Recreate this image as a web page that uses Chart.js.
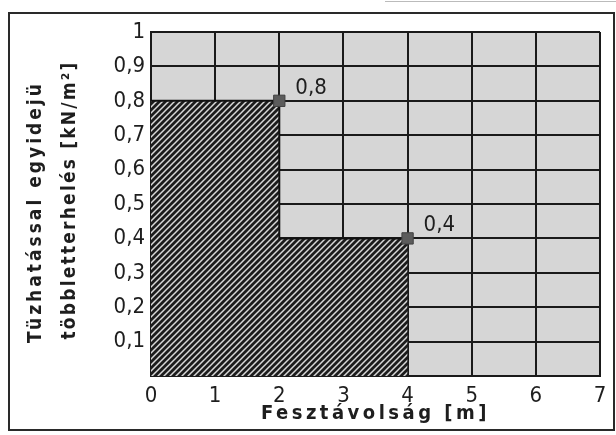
<!DOCTYPE html>
<html>
<head>
<meta charset="utf-8">
<script src="https://cdn.jsdelivr.net/npm/chart.js@4"></script>
<style>
  body { margin: 0; background: #fff; }
  canvas { display: block; }
</style>
</head>
<body>
<canvas id="c" width="616" height="435"></canvas>
<script>
// span end points [m] and the load on each span [kN/m2]
const spanEnds = [2, 4];
const loads = [0.8, 0.4];
const pointLabels = ['0,8', '0,4'];
const xTickLabels = ['0', '1', '2', '3', '4', '5', '6', '7'];
const yTickLabels = ['', '0,1', '0,2', '0,3', '0,4', '0,5', '0,6', '0,7', '0,8', '0,9', '1'];
const yTitle = ['Tüzhatással egyidejü', 'többletterhelés [kN/m²]'];
const xTitle = 'Fesztávolság [m]';

const FONT = '"DejaVu Sans Condensed", "Liberation Sans Narrow", sans-serif';

// step outline of the hatched area
const stepData = [];
let prev = 0;
loads.forEach((v, i) => {
    stepData.push({x: prev, y: v});
    stepData.push({x: spanEnds[i], y: v});
    prev = spanEnds[i];
});
const markerData = spanEnds.map((x, i) => ({x: x, y: loads[i]}));

// diagonal hatch ////
function hatch() {
    const p = document.createElement('canvas');
    p.width = 6; p.height = 6;
    const g = p.getContext('2d');
    g.fillStyle = '#1c1c1c';
    g.fillRect(0, 0, 6, 6);
    g.strokeStyle = '#d8d8d8';
    g.lineWidth = 1.5;
    g.beginPath();
    g.moveTo(0, 6); g.lineTo(6, 0);
    g.moveTo(-1, 1); g.lineTo(1, -1);
    g.moveTo(5, 7); g.lineTo(7, 5);
    g.stroke();
    return g.createPattern(p, 'repeat');
}

const frame = {
    id: 'frame',
    beforeDraw(chart) {
        const {ctx, chartArea: a} = chart;
        ctx.save();
        ctx.fillStyle = '#fff';
        ctx.fillRect(0, 0, chart.width, chart.height);
        ctx.strokeStyle = '#bbb';
        ctx.lineWidth = 1;
        ctx.beginPath();
        ctx.moveTo(385, 1.5); ctx.lineTo(616, 1.5);
        ctx.stroke();
        ctx.strokeStyle = '#2a2a2a';
        ctx.lineWidth = 2;
        ctx.strokeRect(9, 13, 605, 417);
        ctx.fillStyle = '#d6d6d6';
        ctx.fillRect(a.left, a.top, a.right - a.left, a.bottom - a.top);
        ctx.restore();
    }
};

const texts = {
    id: 'texts',
    afterDraw(chart) {
        const {ctx, chartArea: a} = chart;
        ctx.save();
        ctx.fillStyle = '#1e1e1e';
        ctx.font = '22px ' + FONT;
        ctx.textAlign = 'left';
        ctx.textBaseline = 'middle';
        const meta = chart.getDatasetMeta(0);
        meta.data.forEach((pt, i) => {
            ctx.fillText(pointLabels[i], pt.x + 16, pt.y - 13);
        });
        ctx.font = 'bold 20px ' + FONT;
        ctx.letterSpacing = '3.5px';
        ctx.textAlign = 'center';
        ctx.fillText(xTitle, (a.left + a.right) / 2, 414);
        ctx.font = 'bold 19px ' + FONT;
        const lines = [{x: 36, y: 212, sp: '3px'}, {x: 70, y: 200, sp: '2.2px'}];
        lines.forEach((l, i) => {
            ctx.save();
            ctx.letterSpacing = l.sp;
            ctx.translate(l.x, l.y);
            ctx.rotate(-Math.PI / 2);
            ctx.fillText(yTitle[i], 0, 0);
            ctx.restore();
        });
        ctx.restore();
    }
};

new Chart(document.getElementById('c'), {
    data: {
        datasets: [{
            type: 'scatter',
            data: markerData,
            pointStyle: 'rect',
            pointRadius: 8,
            pointHoverRadius: 8,
            backgroundColor: '#5c5c5c',
            borderColor: '#404040',
            borderWidth: 1
        }, {
            type: 'line',
            data: stepData,
            fill: 'origin',
            backgroundColor: hatch(),
            borderColor: '#111',
            borderWidth: 2,
            pointRadius: 0,
            tension: 0
        }]
    },
    options: {
        responsive: false,
        devicePixelRatio: 1,
        animation: false,
        layout: {padding: {left: 0, right: 16, top: 32, bottom: 0}},
        plugins: {legend: {display: false}, tooltip: {enabled: false}},
        scales: {
            x: {
                type: 'linear',
                min: 0, max: 7,
                afterFit: (s) => { s.height = 59; },
                grid: {color: '#1a1a1a', lineWidth: 2, drawTicks: false},
                border: {color: '#1a1a1a', width: 2},
                ticks: {
                    stepSize: 1,
                    padding: 7,
                    color: '#1e1e1e',
                    font: {family: FONT, size: 22},
                    callback: (v, i) => xTickLabels[i]
                }
            },
            y: {
                min: 0, max: 1,
                afterFit: (s) => { s.width = 151; },
                grid: {color: '#1a1a1a', lineWidth: 2, drawTicks: false},
                border: {color: '#1a1a1a', width: 2},
                ticks: {
                    stepSize: 0.1,
                    padding: 6,
                    color: '#1e1e1e',
                    font: {family: FONT, size: 22},
                    callback: (v, i) => yTickLabels[i]
                }
            }
        }
    },
    plugins: [frame, texts]
});
</script>
</body>
</html>
